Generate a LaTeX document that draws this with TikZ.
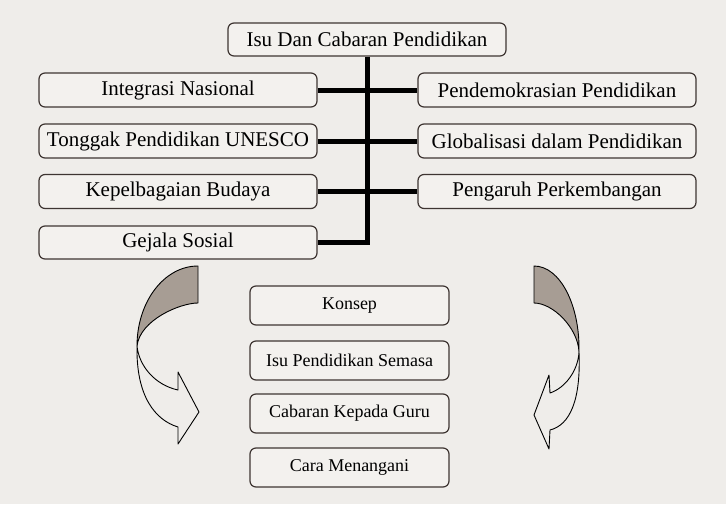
\documentclass[tikz,border=0pt]{standalone}
\usepackage{fontspec}
\setmainfont{Liberation Serif}
\definecolor{bg}{HTML}{EFEDEA}
\definecolor{boxfill}{HTML}{F3F1EE}
\definecolor{boxline}{HTML}{3E3532}
\definecolor{shade}{HTML}{A79D94}
\begin{document}
\begin{tikzpicture}[x=1pt,y=-1pt,
  box/.style={draw=boxline, line width=1.2pt, fill=boxfill, rounded corners=6pt,
    inner sep=0pt, minimum width=278pt, minimum height=34pt,
    font=\fontsize{21}{24}\selectfont, text=black},
  sbox/.style={box, minimum width=199pt, minimum height=39pt,
    font=\fontsize{18}{21}\selectfont},
  link/.style={line width=5pt, black},
  arrowline/.style={draw=black, line width=0.9pt, line join=round}]
\useasboundingbox (0,0) rectangle (726,504);
\fill[bg] (0,0) rectangle (726,504);

% top
\node[box, minimum height=33pt] (top) at (367,39.5) {Isu Dan Cabaran Pendidikan};
% left column
\node[box] (L1) at (178,90) {Integrasi Nasional};
\node[box] (L2) at (178,141) {Tonggak Pendidikan UNESCO};
\node[box] (L3) at (178,191.5) {Kepelbagaian Budaya};
\node[box, minimum height=33pt] (L4) at (178,242.5) {Gejala Sosial};
% right column
\node[box] (R1) at (557,90) {Pendemokrasian Pendidikan};
\node[box] (R2) at (557,141) {Globalisasi dalam Pendidikan};
\node[box] (R3) at (557,191.5) {Pengaruh Perkembangan};
% lower column
\node[sbox] (K1) at (349.5,305.5) {Konsep};
\node[sbox] (K2) at (349.5,360.5) {Isu Pendidikan Semasa};
\node[sbox] (K3) at (349.5,413.5) {Cabaran Kepada Guru};
\node[sbox] (K4) at (349.5,467.5) {Cara Menangani};

% connectors
\draw[link] (top.south) |- (L4.east);
\draw[link] (L1.east) -- (R1.west);
\draw[link] (L2.east) -- (R2.west);
\draw[link] (L3.east) -- (R3.west);

% left curved arrow
\filldraw[arrowline, fill=shade]
  (198,266) -- (198,303)
  .. controls (180,303) and (140,320) .. (137,346)
  .. controls (137,302) and (164,266) .. (198,266) -- cycle;
\filldraw[arrowline, fill=bg]
  (137,346) .. controls (139,366) and (155,385) .. (178,390)
  -- (178,372) -- (199,412) -- (178,444) -- (178,427)
  .. controls (155,420) and (136,396) .. (137,346) -- cycle;

% right curved arrow
\filldraw[arrowline, fill=shade]
  (534,266) -- (534,303)
  .. controls (553,303) and (578,328) .. (579,352)
  .. controls (580,305) and (560,266) .. (534,266) -- cycle;
\filldraw[arrowline, fill=bg]
  (579,352) .. controls (578,371) and (565,388) .. (550,393)
  -- (549,375) -- (534,415) -- (549,449) -- (550,430)
  .. controls (570,425) and (581,400) .. (579,352) -- cycle;
\end{tikzpicture}
\end{document}
